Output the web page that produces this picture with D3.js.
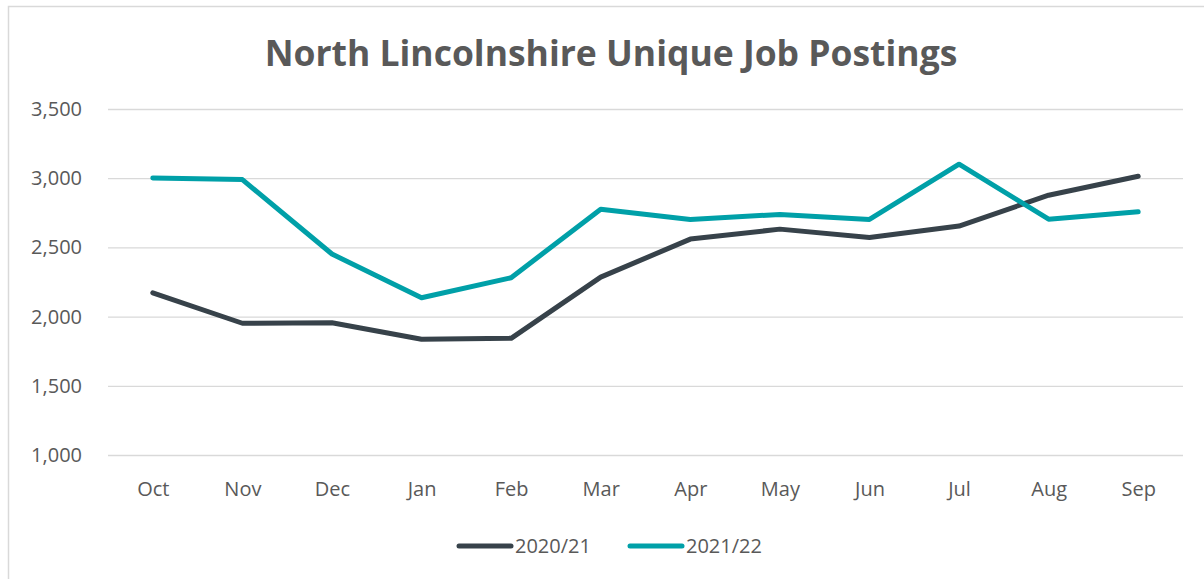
<!DOCTYPE html>
<html>
<head>
<meta charset="utf-8">
<script src="https://cdn.jsdelivr.net/npm/d3@7"></script>
<style>
  html, body { margin: 0; padding: 0; background: #fff; }
  svg, svg text { font-family: "Open Sans", "Noto Sans", sans-serif; }
</style>
</head>
<body>
<div id="chart"></div>
<script>
var months = ['Oct', 'Nov', 'Dec', 'Jan', 'Feb', 'Mar', 'Apr', 'May', 'Jun', 'Jul', 'Aug', 'Sep'];
var postings2021 = [2172, 1952, 1956, 1836, 1843, 2285, 2560, 2632, 2572, 2654, 2877, 3014];
var postings2122 = [3002, 2990, 2452, 2136, 2281, 2776, 2702, 2738, 2702, 3101, 2704, 2757];
var seriesNames = ['2020/21', '2021/22'];
var yTicks = [1000, 1500, 2000, 2500, 3000, 3500];

var width = 1204, height = 579;
var colors = ['#37424a', '#00a0a8'];
var textColor = '#595959';

var svg = d3.select('#chart').append('svg')
  .attr('width', width).attr('height', height);

// chart frame
svg.append('rect')
  .attr('x', 8.5).attr('y', 6.5)
  .attr('width', width).attr('height', height)
  .attr('fill', 'none').attr('stroke', '#d9d9d9').attr('stroke-width', 1.5);

var x = d3.scalePoint().domain(months).range([108, 1183]).padding(0.5);
var y = d3.scaleLinear().domain([1000, 3500]).range([455, 109]);

// gridlines
svg.append('g')
  .attr('transform', 'translate(108,0)')
  .call(d3.axisLeft(y).tickValues(yTicks).tickSize(-1075).tickFormat(''))
  .call(function(g) {
    g.select('.domain').remove();
    g.selectAll('line').attr('stroke', '#d9d9d9').attr('stroke-width', 1.3);
  });

// y labels
svg.append('g')
  .attr('transform', 'translate(108,0)')
  .call(d3.axisLeft(y).tickValues(yTicks).tickSize(0).tickPadding(26).tickFormat(d3.format(',')))
  .call(function(g) {
    g.select('.domain').remove();
    g.attr('font-family', null).attr('font-size', null);
    g.selectAll('text').attr('fill', textColor).style('font-size', '20px');
  });

// x labels
svg.append('g')
  .attr('transform', 'translate(0,455)')
  .call(d3.axisBottom(x).tickSize(0).tickPadding(27))
  .call(function(g) {
    g.select('.domain').remove();
    g.attr('font-family', null).attr('font-size', null);
    g.selectAll('text').attr('fill', textColor).style('font-size', '20px');
  });

var line = d3.line()
  .x(function(d, i) { return x(months[i]); })
  .y(function(d) { return y(d); });

[postings2021, postings2122].forEach(function(vals, i) {
  svg.append('path')
    .datum(vals)
    .attr('d', line)
    .attr('fill', 'none')
    .attr('stroke', colors[i])
    .attr('stroke-width', 5)
    .attr('stroke-linejoin', 'round')
    .attr('stroke-linecap', 'round');
});

// title
var title = svg.append('text')
  .attr('x', 611).attr('y', 66)
  .attr('text-anchor', 'middle')
  .attr('fill', textColor)
  .style('font-size', '30px').style('font-weight', 'bold')
  .text('North Lincolnshire Unique Job Postings');
var tw = title.node().getComputedTextLength();
title.style('font-size', (30 * 693 / tw) + 'px');

// legend
var legendX = [459, 630];
seriesNames.forEach(function(name, i) {
  var g = svg.append('g').attr('transform', 'translate(' + legendX[i] + ',546)');
  g.append('line')
    .attr('x1', 0).attr('x2', 52)
    .attr('stroke', colors[i]).attr('stroke-width', 5).attr('stroke-linecap', 'round');
  g.append('text')
    .attr('x', 56).attr('y', 7)
    .attr('fill', textColor).style('font-size', '20px')
    .text(name);
});
</script>
</body>
</html>
